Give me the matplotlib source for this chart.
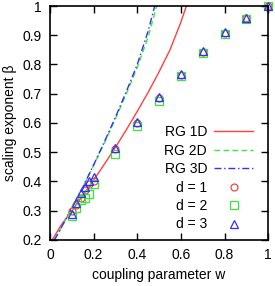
import matplotlib
matplotlib.use("Agg")
import matplotlib.pyplot as plt

plt.rcParams['font.family'] = ['Liberation Sans', 'DejaVu Sans']

# RG theory curves
rg1_w = [0.01, 0.05, 0.1, 0.15, 0.2, 0.25, 0.3, 0.35, 0.4, 0.45, 0.5, 0.55, 0.6, 0.625]
rg1_b = [0.2, 0.25, 0.30, 0.352, 0.405, 0.46, 0.517, 0.577, 0.64, 0.705, 0.775, 0.85, 0.945, 1.0]

rg2_w = [0.02, 0.05, 0.1, 0.15, 0.2, 0.25, 0.3, 0.35, 0.4, 0.45, 0.489]
rg2_b = [0.2, 0.24, 0.31, 0.38, 0.455, 0.533, 0.615, 0.70, 0.79, 0.895, 1.0]

rg3_w = [0.02, 0.05, 0.1, 0.15, 0.2, 0.25, 0.3, 0.35, 0.4, 0.45, 0.48]
rg3_b = [0.2, 0.24, 0.31, 0.38, 0.457, 0.537, 0.62, 0.708, 0.80, 0.915, 1.0]

# simulation points
w_pts = [0.1, 0.12, 0.14, 0.16, 0.18, 0.2, 0.3, 0.4, 0.5, 0.6, 0.7, 0.8, 0.9, 1.0]
d1 = [0.30, 0.32, 0.345, 0.37, 0.39, 0.40, 0.51, 0.60, 0.687, 0.765, 0.843, 0.908, 0.958, 1.0]
d2 = [0.282, 0.308, 0.337, 0.345, 0.357, 0.392, 0.495, 0.59, 0.675, 0.76, 0.84, 0.905, 0.955, 1.0]
d3 = [0.29, 0.325, 0.362, 0.38, 0.40, 0.414, 0.515, 0.605, 0.69, 0.768, 0.845, 0.91, 0.96, 1.0]

red = '#ff4040'
green = '#38e838'
blue = '#3030ff'

fig = plt.figure(figsize=(2.75, 2.86), dpi=100)
ax = fig.add_axes([0.182, 0.161, 0.793, 0.818])

ax.plot(rg1_w, rg1_b, color=red, lw=1, label='RG 1D')
ax.plot(rg2_w, rg2_b, color=green, lw=1, ls=(0, (4, 2.5)), label='RG 2D')
ax.plot(rg3_w, rg3_b, color=blue, lw=1, ls=(0, (5, 2, 1, 2)), label='RG 3D')
ax.plot(w_pts, d1, 'o', mfc='none', mec=red, ms=5, mew=0.9, label='d = 1', clip_on=False)
ax.plot(w_pts, d2, 's', mfc='none', mec=green, ms=5.5, mew=0.9, label='d = 2', clip_on=False)
ax.plot(w_pts, d3, '^', mfc='none', mec=blue, ms=6, mew=0.9, label='d = 3', clip_on=False)

ax.set_xlim(0, 1)
ax.set_ylim(0.2, 1)
ax.set_xticks([0, 0.2, 0.4, 0.6, 0.8, 1])
ax.set_xticklabels(['0', '0.2', '0.4', '0.6', '0.8', '1'])
ax.set_yticks([0.2, 0.3, 0.4, 0.5, 0.6, 0.7, 0.8, 0.9, 1])
ax.set_yticklabels(['0.2', '0.3', '0.4', '0.5', '0.6', '0.7', '0.8', '0.9', '1'])
ax.tick_params(direction='in', length=5, width=1, top=True, right=True, labelsize=10, pad=6)
for s in ax.spines.values():
    s.set_linewidth(1.2)

ax.set_xlabel('coupling parameter w', fontsize=10, labelpad=4)
ax.set_ylabel('scaling exponent β', fontsize=10, labelpad=4)

ax.legend(loc='lower right', bbox_to_anchor=(0.975, -0.005), frameon=False, markerfirst=False,
          fontsize=10, handlelength=2.8, handletextpad=0.5, labelspacing=0.32, borderpad=0.2)

plt.savefig('out.png', dpi=100)
